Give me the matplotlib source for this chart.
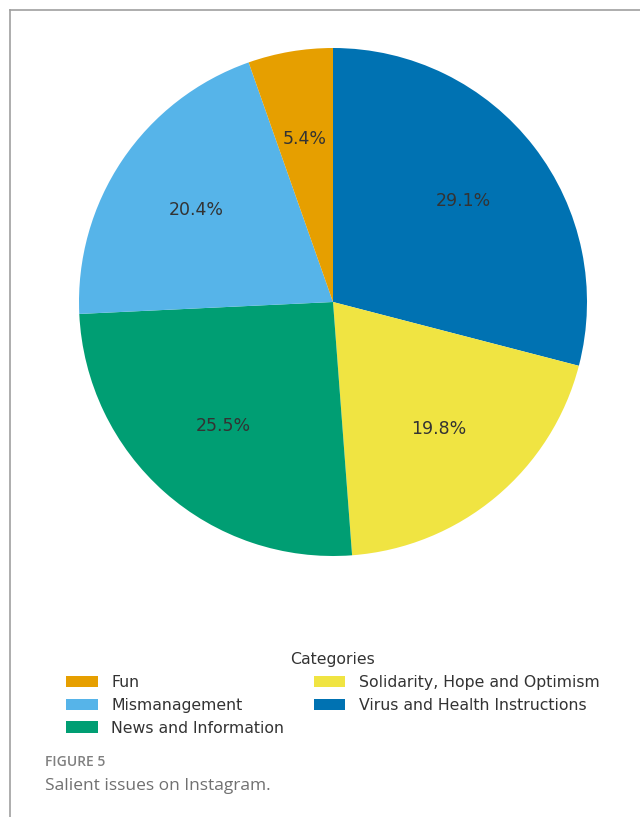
import matplotlib.pyplot as plt
from matplotlib.lines import Line2D

# data
categories = ["Virus and Health Instructions", "Solidarity, Hope and Optimism",
              "News and Information", "Mismanagement", "Fun"]
shares = [29.1, 19.8, 25.5, 20.4, 5.4]
colors = ["#0072B2", "#F0E442", "#009E73", "#56B4E9", "#E69F00"]
legend_order = ["Fun", "Mismanagement", "News and Information",
                "Solidarity, Hope and Optimism", "Virus and Health Instructions"]

W, H = 640, 817
fig = plt.figure(figsize=(W / 100, H / 100), dpi=100)

# pie axes: center (333, 302) px, radius 254 px
r = 254
ax = fig.add_axes([(333 - r) / W, (H - 302 - r) / H, 2 * r / W, 2 * r / H])
wedges, texts, autotexts = ax.pie(
    shares, colors=colors, startangle=90, counterclock=False,
    autopct="%.1f%%", pctdistance=0.65,
    textprops=dict(fontsize=12.5, color="#333333"),
)
# show the reported shares as printed (they sum to 100.2)
for t, v in zip(autotexts, shares):
    t.set_text(f"{v:.1f}%")
ax.set_aspect("equal")
ax.set_xlim(-1, 1)
ax.set_ylim(-1, 1)

handles = [wedges[categories.index(c)] for c in legend_order]
leg = fig.legend(handles, legend_order, title="Categories", ncol=2,
                 loc="upper center", bbox_to_anchor=(333 / W, 1 - 638 / H),
                 frameon=False, fontsize=11.3, title_fontsize=11.3,
                 handlelength=2.0, handleheight=0.75, labelspacing=0.5,
                 columnspacing=1.9, handletextpad=0.85)
for t in leg.get_texts():
    t.set_color("#333333")
leg.get_title().set_color("#333333")

# caption
fig.text(45 / W, 1 - 762 / H, "FIGURE 5", fontsize=10, color="#808080",
         family="Open Sans", weight="semibold", va="center")
fig.text(45 / W, 1 - 786 / H, "Salient issues on Instagram.", fontsize=12.5,
         color="#707070", family="Open Sans", va="center")

# frame lines (left and top)
fig.add_artist(Line2D([10 / W, 10 / W], [0, 1 - 10 / H], color="#a0a0a0", lw=1.2))
fig.add_artist(Line2D([10 / W, 1], [1 - 10 / H, 1 - 10 / H], color="#a0a0a0", lw=1.2))

fig.savefig("out.png", dpi=100)
